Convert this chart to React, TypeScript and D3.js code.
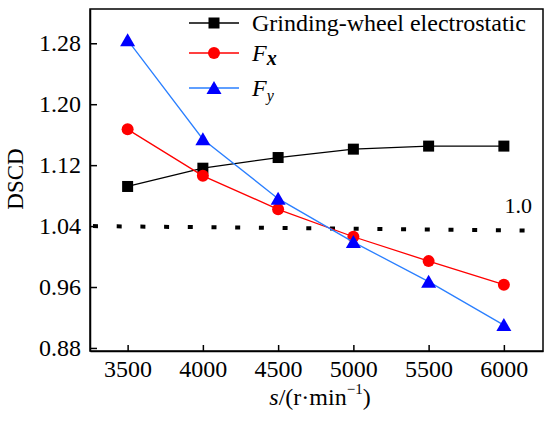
import React, { useRef, useEffect } from "react";
import * as d3 from "d3";

const speeds = [3500, 4000, 4500, 5000, 5500, 6000];
const electrostatic = [1.092, 1.116, 1.13, 1.141, 1.145, 1.145];
const fxValues = [1.167, 1.106, 1.062, 1.026, 0.994, 0.963];
const fyValues = [1.284, 1.154, 1.076, 1.019, 0.967, 0.91];
const refLine = [
  { s: 3250, v: 1.04 },
  { s: 6260, v: 1.034 },
];
const yTicks = [0.88, 0.96, 1.04, 1.12, 1.2, 1.28];

const FONT = "'Liberation Serif', 'Times New Roman', serif";

const App: React.FC = () => {
  const svg = useRef<SVGSVGElement>(null);
  const width = 550;
  const height = 421;
  const margin = { left: 90, top: 9, right: 7, bottom: 70 };

  useEffect(() => {
    document.body.style.margin = "0";
    const root = d3.select(svg.current);
    root.selectAll("*").remove();

    const x = d3
      .scaleLinear()
      .domain([3250, 6260])
      .range([margin.left, width - margin.right]);
    const y = d3
      .scaleLinear()
      .domain([0.876, 1.325])
      .range([height - margin.bottom, margin.top]);

    // frame
    root
      .append("rect")
      .attr("x", x.range()[0])
      .attr("y", y.range()[1])
      .attr("width", x.range()[1] - x.range()[0])
      .attr("height", y.range()[0] - y.range()[1])
      .attr("fill", "none")
      .attr("stroke", "black")
      .attr("stroke-width", 1.5);

    const xAxis = root
      .append("g")
      .attr("transform", `translate(0, ${y.range()[0]})`)
      .call(
        d3
          .axisBottom(x)
          .tickValues(speeds)
          .tickSizeInner(-6)
          .tickSizeOuter(0)
          .tickPadding(9)
          .tickFormat(d3.format("d"))
      );
    const yAxis = root
      .append("g")
      .attr("transform", `translate(${x.range()[0]}, 0)`)
      .call(
        d3
          .axisLeft(y)
          .tickValues(yTicks)
          .tickSizeInner(-7)
          .tickSizeOuter(0)
          .tickPadding(9)
          .tickFormat(d3.format(".2f"))
      );
    [xAxis, yAxis].forEach((a) => {
      a.attr("font-family", FONT);
      a.select(".domain").attr("stroke-width", 1.5);
      a.selectAll(".tick line").attr("stroke-width", 1.5);
      a.selectAll("text")
        .attr("font-family", FONT)
        .attr("font-size", 24)
        .attr("fill", "black");
    });

    // reference dotted line
    root
      .append("path")
      .datum(refLine)
      .attr("fill", "none")
      .attr("stroke", "black")
      .attr("stroke-width", 4)
      .attr("stroke-dasharray", "5 18.7")
      .attr("stroke-dashoffset", -3)
      .attr(
        "d",
        d3
          .line<{ s: number; v: number }>()
          .x((d) => x(d.s))
          .y((d) => y(d.v))
      );
    root
      .append("text")
      .attr("x", 532)
      .attr("y", 213)
      .attr("text-anchor", "end")
      .attr("font-family", FONT)
      .attr("font-size", 22)
      .text("1.0");

    const line = d3
      .line<number>()
      .x((_, i) => x(speeds[i]))
      .y((d) => y(d));

    const series = [
      { values: electrostatic, stroke: "black", fill: "black", shape: "square" },
      { values: fxValues, stroke: "#ff0000", fill: "#ff0000", shape: "circle" },
      { values: fyValues, stroke: "#2a7fff", fill: "#0000ff", shape: "triangle" },
    ];

    const drawMarker = (
      g: d3.Selection<SVGGElement, unknown, null, undefined>,
      shape: string,
      fill: string,
      cx: number,
      cy: number
    ) => {
      if (shape === "square") {
        g.append("rect")
          .attr("x", cx - 5.5)
          .attr("y", cy - 5.5)
          .attr("width", 11)
          .attr("height", 11)
          .attr("fill", fill);
      } else if (shape === "circle") {
        g.append("circle").attr("cx", cx).attr("cy", cy).attr("r", 6).attr("fill", fill);
      } else {
        g.append("path")
          .attr("d", `M${cx},${cy - 7} L${cx + 7.5},${cy + 6} L${cx - 7.5},${cy + 6} Z`)
          .attr("fill", fill);
      }
    };

    series.forEach((s) => {
      root
        .append("path")
        .datum(s.values)
        .attr("fill", "none")
        .attr("stroke", s.stroke)
        .attr("stroke-width", 1.3)
        .attr("d", line);
      const g = root.append("g");
      s.values.forEach((v, i) => drawMarker(g, s.shape, s.fill, x(speeds[i]), y(v)));
    });

    // legend
    const legendRows = [23, 53, 88];
    series.forEach((s, i) => {
      const g = root.append("g");
      g.append("line")
        .attr("x1", 189)
        .attr("x2", 239)
        .attr("y1", legendRows[i])
        .attr("y2", legendRows[i])
        .attr("stroke", s.stroke)
        .attr("stroke-width", 1.3);
      drawMarker(g, s.shape, s.fill, 214, legendRows[i]);
    });
    const lt = root
      .append("g")
      .attr("font-family", FONT)
      .attr("font-size", 24)
      .attr("fill", "black");
    lt.append("text").attr("x", 252).attr("y", legendRows[0] + 8).text("Grinding-wheel electrostatic");
    const fx = lt.append("text").attr("x", 252).attr("y", legendRows[1] + 8);
    fx.append("tspan").attr("font-style", "italic").text("F");
    fx.append("tspan")
      .attr("font-style", "italic")
      .attr("font-weight", "bold")
      .attr("font-size", 20)
      .attr("dy", 4)
      .text("x");
    const fy = lt.append("text").attr("x", 252).attr("y", legendRows[2] + 8);
    fy.append("tspan").attr("font-style", "italic").text("F");
    fy.append("tspan")
      .attr("font-style", "italic")
      .attr("font-size", 16)
      .attr("dy", 5)
      .text("y");

    // axis titles
    root
      .append("text")
      .attr("transform", `translate(23, 179) rotate(-90)`)
      .attr("text-anchor", "middle")
      .attr("font-family", FONT)
      .attr("font-size", 23)
      .text("DSCD");
    const xt = root
      .append("text")
      .attr("x", 320)
      .attr("y", 405)
      .attr("text-anchor", "middle")
      .attr("font-family", FONT)
      .attr("font-size", 24);
    xt.append("tspan").attr("font-style", "italic").text("s");
    xt.append("tspan").text("/(r·min");
    xt.append("tspan").attr("font-size", 15).attr("dy", -11).text("−1");
    xt.append("tspan").attr("dy", 11).text(")");
  });

  return <svg ref={svg} width={width} height={height} style={{ display: "block" }}></svg>;
};

export default App;
